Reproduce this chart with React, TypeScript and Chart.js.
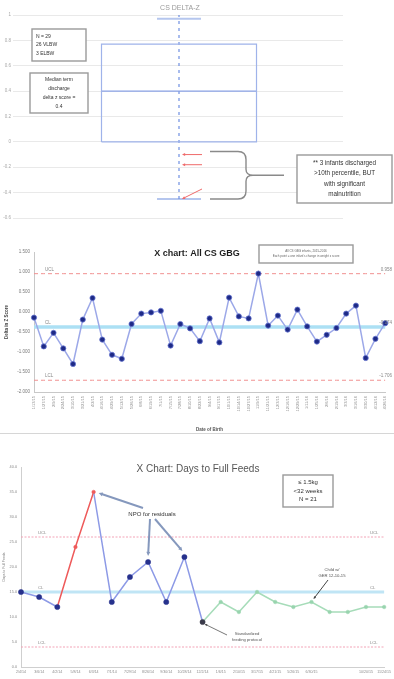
import React, { useEffect, useRef } from "react";
import { Chart, registerables } from "chart.js";

Chart.register(...registerables);

const FONT = "'Liberation Sans', Arial, sans-serif";

// ---- CS DELTA-Z box plot ----
const deltaMin = -0.6;
const deltaMax = 1;
const deltaStep = 0.2;
const boxQ1 = 0;
const boxMedian = 0.4;
const boxQ3 = 0.77;
const whiskerLow = -0.45;
const whiskerHigh = 0.97;
const malnourishedDeltas = [-0.1, -0.18, -0.45];
const cohortLines = ["N = 29", "26 VLBW", "3 ELBW"];
const medianLines = ["Median term", "discharge", "delta z score =", String(boxMedian)];
const noteLines = ["** 3 infants discharged", ">10th percentile, BUT", "with significant", "malnutrition"];

// ---- X chart: All CS GBG ----
const gbgDates = [
  "1/13/15", "1/27/15", "2/9/15", "2/24/15", "3/10/15", "3/21/15", "4/2/15", "4/16/15",
  "4/29/15", "5/12/15", "5/26/15", "6/8/15", "6/19/15", "7/1/15", "7/15/15", "7/28/15",
  "8/10/15", "8/22/15", "9/4/15", "9/17/15", "10/1/15", "10/14/15", "10/27/15", "11/9/15",
  "11/21/15", "12/3/15", "12/16/15", "12/29/15", "1/11/16", "1/25/16", "2/6/16", "2/19/16",
  "3/3/16", "3/16/16", "3/30/16", "4/12/16", "4/26/16",
];
const gbgDelta = [
  -0.14, -0.86, -0.52, -0.91, -1.3, -0.19, 0.35, -0.69, -1.07, -1.17, -0.3, -0.04, -0.01,
  0.03, -0.84, -0.3, -0.41, -0.73, -0.16, -0.76, 0.36, -0.11, -0.16, 0.96, -0.34, -0.09,
  -0.44, 0.06, -0.36, -0.74, -0.57, -0.4, -0.04, 0.16, -1.15, -0.67, -0.28,
];
const gbgUCL = 0.958;
const gbgCL = -0.374;
const gbgLCL = -1.706;
const gbgNoteLines = ["All CS GBG infants, 2015-2016", "Each point = one infant's change in weight z score"];

// ---- X chart: Days to Full Feeds ----
const feedDates = [
  "2/4/14", "3/6/14", "4/2/14", "5/8/14", "6/3/14", "7/1/14", "7/29/14", "8/26/14",
  "9/30/14", "10/28/14", "12/2/14", "1/6/15", "2/10/15", "3/17/15", "4/21/15", "5/26/15",
  "6/30/15", "", "", "10/20/15", "11/24/15",
];
const feedDays = [15, 14, 12, 24, 35, 13, 18, 21, 13, 22, 9, 13, 11, 15, 13, 12, 13, 11, 11, 12, 12];
const feedUCL = 26;
const feedCL = 15;
const feedLCL = 4;
const aboveLimitIdx = [3, 4];
const protocolStartIdx = 10;
const npoIdx = [4, 7, 9];
const childNoteIdx = 16;
const feedBoxLines = ["\u2264 1.5kg", "<32 weeks", "N = 21"];

function drawArrow(
  ctx: CanvasRenderingContext2D, x1: number, y1: number, x2: number, y2: number,
  color: string, width: number, head: number
) {
  const a = Math.atan2(y2 - y1, x2 - x1);
  ctx.save();
  ctx.strokeStyle = color;
  ctx.fillStyle = color;
  ctx.lineWidth = width;
  ctx.beginPath();
  ctx.moveTo(x1, y1);
  ctx.lineTo(x2 - Math.cos(a) * head * 0.7, y2 - Math.sin(a) * head * 0.7);
  ctx.stroke();
  ctx.beginPath();
  ctx.moveTo(x2, y2);
  ctx.lineTo(x2 - head * Math.cos(a - 0.45), y2 - head * Math.sin(a - 0.45));
  ctx.lineTo(x2 - head * Math.cos(a + 0.45), y2 - head * Math.sin(a + 0.45));
  ctx.closePath();
  ctx.fill();
  ctx.restore();
}

function textBox(
  ctx: CanvasRenderingContext2D, x: number, y: number, w: number, h: number,
  lines: string[], size: number, lineGap: number, align: "left" | "center", color = "#333"
) {
  ctx.save();
  ctx.fillStyle = "#fff";
  ctx.fillRect(x, y, w, h);
  ctx.strokeStyle = "#9a9a9a";
  ctx.lineWidth = 1.4;
  ctx.strokeRect(x, y, w, h);
  ctx.fillStyle = color;
  ctx.font = `${size}px ${FONT}`;
  ctx.textAlign = align;
  ctx.textBaseline = "middle";
  const tx = align === "center" ? x + w / 2 : x + 4;
  const startY = y + h / 2 - ((lines.length - 1) * lineGap) / 2;
  lines.forEach((l, i) => ctx.fillText(l, tx, startY + i * lineGap));
  ctx.restore();
}

function text(ctx: CanvasRenderingContext2D, s: string, x: number, y: number, size: number, color: string, align: CanvasTextAlign = "left", weight = "normal") {
  ctx.save();
  ctx.font = `${weight} ${size}px ${FONT}`;
  ctx.fillStyle = color;
  ctx.textAlign = align;
  ctx.textBaseline = "middle";
  ctx.fillText(s, x, y);
  ctx.restore();
}

const BOX_HALF = 0.4726;
const CAP_HALF = 0.134;

function boxPlotConfig(): any {
  const c = 1;
  const blue = "#9fb3ea";
  return {
    type: "scatter",
    data: {
      datasets: [
        {
          data: [
            { x: c - BOX_HALF, y: boxQ1 }, { x: c + BOX_HALF, y: boxQ1 },
            { x: c + BOX_HALF, y: boxQ3 }, { x: c - BOX_HALF, y: boxQ3 }, { x: c - BOX_HALF, y: boxQ1 },
          ],
          showLine: true, borderColor: blue, borderWidth: 1.2, pointRadius: 0, fill: false,
        },
        {
          data: [{ x: c - BOX_HALF, y: boxMedian }, { x: c + BOX_HALF, y: boxMedian }],
          showLine: true, borderColor: "#8aa2e6", borderWidth: 1.4, pointRadius: 0,
        },
        {
          data: [{ x: c, y: whiskerLow }, { x: c, y: whiskerHigh + 0.04 }],
          showLine: true, borderColor: "#6f8fe2", borderWidth: 1.2, borderDash: [3, 4], pointRadius: 0,
        },
        {
          data: [{ x: c - CAP_HALF, y: whiskerHigh }, { x: c + CAP_HALF, y: whiskerHigh }],
          showLine: true, borderColor: "#b5c6ee", borderWidth: 2, pointRadius: 0,
        },
        {
          data: [{ x: c - CAP_HALF, y: whiskerLow }, { x: c + CAP_HALF, y: whiskerLow }],
          showLine: true, borderColor: "#b5c6ee", borderWidth: 2, pointRadius: 0,
        },
      ],
    },
    options: {
      animation: false, responsive: false,
      layout: { padding: { top: 15, right: 51, bottom: 7, left: 0 } },
      plugins: { legend: { display: false }, tooltip: { enabled: false } },
      scales: {
        x: { type: "linear", min: 0, max: 2, display: false },
        y: {
          min: deltaMin, max: deltaMax,
          ticks: {
            stepSize: deltaStep, color: "#a8a8a8", font: { size: 4.5, family: FONT }, padding: 2,
            callback: (v: number) => String(Number(v.toFixed(1))),
          },
          grid: { color: "#e9e9e9", tickLength: 2 },
          border: { display: false },
          afterFit: (s: any) => { s.width = 15; },
        },
      },
    },
    plugins: [
      {
        id: "boxNotes",
        afterDraw(chart: any) {
          const { ctx } = chart;
          const xs = chart.scales.x, ys = chart.scales.y;
          text(ctx, "CS DELTA-Z", 180, 8, 7, "#9a9a9a", "center");
          const cx = xs.getPixelForValue(1);
          malnourishedDeltas.forEach((v, i) => {
            const py = ys.getPixelForValue(v);
            const last = i === malnourishedDeltas.length - 1;
            drawArrow(ctx, cx + 23, last ? py - 10 : py, cx + 3, py, "#ef6a6a", 1, 3.5);
          });
          // curly brace grouping the three infants
          ctx.save();
          ctx.strokeStyle = "#8a8a8a";
          ctx.lineWidth = 1.4;
          const t = ys.getPixelForValue(malnourishedDeltas[0]) - 3;
          const b = ys.getPixelForValue(malnourishedDeltas[2]);
          const m = (t + b) / 2;
          ctx.beginPath();
          ctx.moveTo(210, t);
          ctx.lineTo(238, t);
          ctx.quadraticCurveTo(246, t, 246, t + 8);
          ctx.lineTo(246, m - 6);
          ctx.quadraticCurveTo(246, m, 253, m);
          ctx.quadraticCurveTo(246, m, 246, m + 6);
          ctx.lineTo(246, b - 8);
          ctx.quadraticCurveTo(246, b, 238, b);
          ctx.lineTo(210, b);
          ctx.moveTo(253, m);
          ctx.lineTo(284, m);
          ctx.stroke();
          ctx.restore();
          textBox(ctx, 297, 155, 95, 48, noteLines, 6.3, 10.5, "center");
          textBox(ctx, 32, 29, 54, 32, cohortLines, 5, 8.5, "left");
          textBox(ctx, 30, 73, 58, 40, medianLines, 5, 8.8, "center");
        },
      },
    ],
  };
}

function gbgConfig(): any {
  const flat = (v: number) => gbgDates.map(() => v);
  return {
    type: "line",
    data: {
      labels: gbgDates,
      datasets: [
        {
          data: gbgDelta, borderColor: "#9ca8e8", borderWidth: 1.5,
          pointRadius: 2.6, pointBackgroundColor: "#1e2a86", pointBorderColor: "#6574cf", pointBorderWidth: 0.8,
        },
        { data: flat(gbgUCL), borderColor: "#f19090", borderWidth: 1, borderDash: [4, 3], pointRadius: 0 },
        { data: flat(gbgLCL), borderColor: "#f19090", borderWidth: 1, borderDash: [4, 3], pointRadius: 0 },
        { data: flat(gbgCL), borderColor: "#ace0f4", borderWidth: 3.5, pointRadius: 0 },
      ],
    },
    options: {
      animation: false, responsive: false,
      layout: { padding: { top: 20, right: 2, bottom: 0, left: 0 } },
      plugins: { legend: { display: false }, tooltip: { enabled: false } },
      scales: {
        x: {
          offset: false,
          grid: { display: false, drawTicks: false },
          border: { color: "#c8c8c8" },
          ticks: { autoSkip: false, minRotation: 90, maxRotation: 90, color: "#8a8a8a", font: { size: 4, family: FONT }, padding: 4 },
          title: { display: true, text: "Date of Birth", color: "#555", font: { size: 4.5, family: FONT, weight: "bold" }, padding: 0 },
          afterFit: (s: any) => { s.height = 40; },
        },
        y: {
          min: -2, max: 1.5,
          ticks: {
            stepSize: 0.5, color: "#7a7a7a", font: { size: 4.5, family: FONT }, padding: 4,
            callback: (v: number) => v.toFixed(3),
          },
          grid: { display: false, drawTicks: false },
          border: { color: "#c8c8c8" },
          title: { display: true, text: "Delta in Z Score", color: "#444", font: { size: 4.5, family: FONT, weight: "bold" }, padding: 4 },
          afterFit: (s: any) => { s.width = 34; },
        },
      },
    },
    plugins: [
      {
        id: "gbgNotes",
        afterDraw(chart: any) {
          const { ctx } = chart;
          const ys = chart.scales.y;
          text(ctx, "X chart: All CS GBG", 197, 22, 9, "#1e1e1e", "center", "bold");
          textBox(ctx, 259, 13, 94, 18, gbgNoteLines, 3, 5, "center", "#666");
          const lim: [string, number, string][] = [
            ["UCL", gbgUCL, gbgUCL.toFixed(3)], ["CL", gbgCL, gbgCL.toFixed(3)], ["LCL", gbgLCL, gbgLCL.toFixed(3)],
          ];
          lim.forEach(([name, v, val]) => {
            const py = ys.getPixelForValue(v) - 4;
            text(ctx, name, 45, py, 4.5, "#888");
            text(ctx, val, 392, py, 4.5, "#888", "right");
          });
        },
      },
    ],
  };
}

function feedConfig(): any {
  const flat = (v: number) => feedDates.map(() => v);
  const blue = "#8d9ae6", red = "#ee5a5a", green = "#a6dcb9";
  const pointColor = feedDays.map((_, i) =>
    aboveLimitIdx.includes(i) ? red : i > protocolStartIdx ? "#98d4ae" : i === protocolStartIdx ? "#3a3a4a" : "#26318c"
  );
  const pointSize = feedDays.map((_, i) => (aboveLimitIdx.includes(i) || i > protocolStartIdx ? 1.8 : 2.6));
  return {
    type: "line",
    data: {
      labels: feedDates,
      datasets: [
        {
          data: feedDays, borderWidth: 1.5, borderColor: blue,
          segment: {
            borderColor: (c: any) => {
              const i = c.p0DataIndex;
              if (i >= protocolStartIdx) return green;
              if (aboveLimitIdx.includes(i + 1)) return red;
              return blue;
            },
          },
          pointRadius: pointSize, pointBackgroundColor: pointColor, pointBorderColor: pointColor, pointBorderWidth: 0.5,
        },
        { data: flat(feedUCL), borderColor: "#f2a3b6", borderWidth: 1, borderDash: [2, 1.5], pointRadius: 0 },
        { data: flat(feedLCL), borderColor: "#f2a3b6", borderWidth: 1, borderDash: [2, 1.5], pointRadius: 0 },
        { data: flat(feedCL), borderColor: "#c0e5f5", borderWidth: 3, pointRadius: 0 },
      ],
    },
    options: {
      animation: false, responsive: false,
      layout: { padding: { top: 27, right: 1, bottom: 0, left: 0 } },
      plugins: { legend: { display: false }, tooltip: { enabled: false } },
      scales: {
        x: {
          offset: false,
          grid: { display: false, drawTicks: false },
          border: { color: "#cfcfcf" },
          ticks: { autoSkip: false, maxRotation: 0, minRotation: 0, color: "#8a8a8a", font: { size: 3.6, family: FONT }, padding: 3 },
          afterFit: (s: any) => { s.height = 12; },
        },
        y: {
          min: 0, max: 40,
          ticks: {
            stepSize: 5, color: "#8a8a8a", font: { size: 3.8, family: FONT }, padding: 4,
            callback: (v: number) => v.toFixed(1),
          },
          grid: { display: false, drawTicks: false },
          border: { color: "#cfcfcf" },
          title: { display: true, text: "Days to Full Feeds", color: "#777", font: { size: 3.5, family: FONT }, padding: 2 },
          afterFit: (s: any) => { s.width = 21; },
        },
      },
    },
    plugins: [
      {
        id: "feedNotes",
        afterDraw(chart: any) {
          const { ctx } = chart;
          const xs = chart.scales.x, ys = chart.scales.y;
          const px = (i: number) => xs.getPixelForValue(i);
          const py = (i: number) => ys.getPixelForValue(feedDays[i]);
          text(ctx, "X Chart: Days to Full Feeds", 198, 29, 10, "#555", "center");
          textBox(ctx, 283, 35, 50, 32, feedBoxLines, 6, 8.5, "center");
          const lim: [string, number][] = [["UCL", feedUCL], ["CL", feedCL], ["LCL", feedLCL]];
          lim.forEach(([name, v]) => {
            const y = ys.getPixelForValue(v) - 4;
            text(ctx, name, 38, y, 4.2, "#888");
            text(ctx, name, 370, y, 4.2, "#888");
          });
          // NPO annotation
          text(ctx, "NPO for residuals", 152, 74, 6, "#333", "center");
          const npoCol = "#8598bd";
          drawArrow(ctx, 143, 68, px(npoIdx[0]) + 5, py(npoIdx[0]) + 1, npoCol, 2, 4.5);
          drawArrow(ctx, 150, 79, px(npoIdx[1]), py(npoIdx[1]) - 6, npoCol, 2, 4.5);
          drawArrow(ctx, 155, 79, px(npoIdx[2]) - 2, py(npoIdx[2]) - 6, npoCol, 2, 4.5);
          // protocol start
          drawArrow(ctx, 227, 195, px(protocolStartIdx) + 2, py(protocolStartIdx) + 2, "#555", 0.8, 3);
          text(ctx, "Standardized", 247, 194, 4.2, "#555", "center");
          text(ctx, "feeding protocol", 247, 200, 4.2, "#555", "center");
          // single infant note
          text(ctx, "Child w/", 332, 130, 4.2, "#555", "center");
          text(ctx, "GER 12-10-15", 332, 136, 4.2, "#555", "center");
          drawArrow(ctx, 328, 140, px(childNoteIdx) + 2, py(childNoteIdx) - 3, "#444", 1, 3);
        },
      },
    ],
  };
}

function ChartPanel({ top, height, make }: { top: number; height: number; make: () => any }) {
  const ref = useRef<HTMLCanvasElement>(null);
  useEffect(() => {
    const chart = new Chart(ref.current as HTMLCanvasElement, make());
    return () => chart.destroy();
  }, [make]);
  return (
    <div style={{ position: "absolute", left: 0, top, width: 394, height }}>
      <canvas ref={ref} width={394} height={height} style={{ display: "block" }} />
    </div>
  );
}

export default function App() {
  return (
    <div style={{ position: "fixed", left: 0, top: 0, width: 394, height: 679, background: "#fff", overflow: "hidden" }}>
      <ChartPanel top={0} height={225} make={boxPlotConfig} />
      <ChartPanel top={232} height={200} make={gbgConfig} />
      <div style={{ position: "absolute", left: 0, top: 433, width: 394, height: 0, borderTop: "1px solid #d6d6d6" }} />
      <ChartPanel top={440} height={239} make={feedConfig} />
    </div>
  );
}
